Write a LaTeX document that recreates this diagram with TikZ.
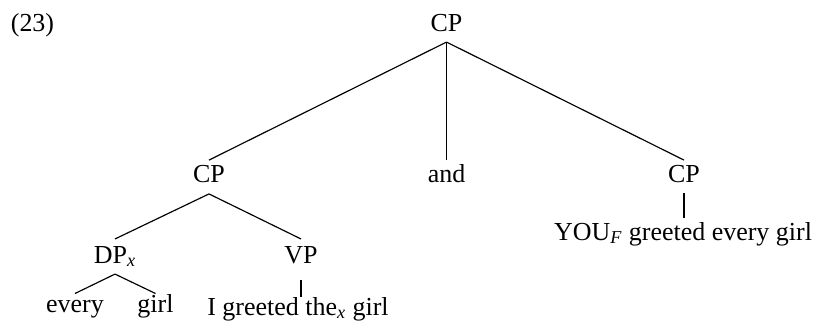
\documentclass[tikz,border=0pt]{standalone}
\usepackage{fontspec}
\setmainfont{Liberation Serif}
\begin{document}
\begin{tikzpicture}[x=0.47pt,y=-0.47pt,
  lbl/.style={anchor=base,inner sep=0pt,font=\fontsize{12.2}{14}\selectfont},
  branch/.style={line width=0.55pt},
  stem/.style={line width=0.75pt}]
\useasboundingbox (0,0) rectangle (819,327);

% example number
\node[lbl] (num) at (32.5,31) {(23)};

% tree labels
\node[lbl] (root) at (446.5,31) {CP};
\node[lbl] (cpl)  at (209,182) {CP};
\node[lbl] (conj) at (446.5,182) {and};
\node[lbl] (cpr)  at (684,182) {CP};
\node[lbl] (dp)   at (115,263) {DP\textsubscript{\itshape x}};
\node[lbl] (vp)   at (301,263) {VP};
\node[lbl] (ev)   at (75,312) {every};
\node[lbl] (gl)   at (155.5,312) {girl};
\node[lbl] (igr)  at (298,315) {I greeted the\textsubscript{\itshape x} girl};
\node[lbl] (you)  at (683,240) {YOU\textsubscript{\itshape F} greeted every girl};

% branches from the root
\draw[branch] ([yshift=-5.2pt]root.base) -- ([yshift=10.3pt]cpl.base);
\draw[stem]   ([yshift=-5.2pt]root.base) -- ([yshift=10.3pt]conj.base);
\draw[branch] ([yshift=-5.2pt]root.base) -- ([yshift=10.3pt]cpr.base);

% left conjunct
\draw[branch] ([yshift=-5.6pt]cpl.base) -- ([yshift=11.3pt]dp.base);
\draw[branch] ([yshift=-5.6pt]cpl.base) -- ([yshift=11.3pt]vp.base);
\draw[branch] ([yshift=-5.2pt]dp.base) -- ([yshift=8.7pt]ev.base);
\draw[branch] ([yshift=-5.2pt]dp.base) -- ([yshift=8.7pt]gl.base);
\draw[stem]   ([yshift=-8pt]vp.base) -- ([yshift=8.3pt]vp.base |- igr.base);

% right conjunct
\draw[stem]   ([yshift=-5.2pt]cpr.base) -- ([yshift=10.3pt]cpr.base |- you.base);
\end{tikzpicture}
\end{document}
